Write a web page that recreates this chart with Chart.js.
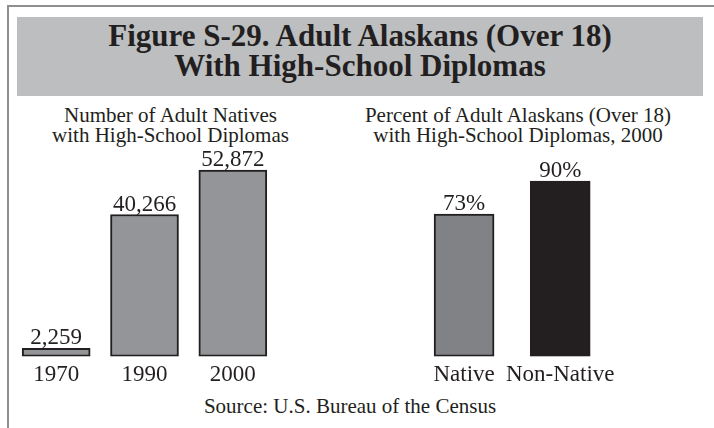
<!DOCTYPE html>
<html>
<head>
<meta charset="utf-8">
<script src="https://cdn.jsdelivr.net/npm/chart.js@4.4.1/dist/chart.umd.min.js"></script>
<style>
  html, body { margin: 0; padding: 0; background: #ffffff; }
  body { width: 714px; height: 428px; position: relative; overflow: hidden; font-family: "Liberation Serif", "DejaVu Serif", serif; color: #231f20; }
  .frameTop { position: absolute; left: 7px; top: 5px; width: 707px; height: 2px; background: #8e8e8e; }
  .frameLeft { position: absolute; left: 7px; top: 5px; width: 2px; height: 423px; background: #8e8e8e; }
  .band { position: absolute; left: 17px; top: 17px; width: 686px; height: 79px; background: #bcbec0; }
  .title { position: absolute; left: 17px; top: 21px; width: 686px; text-align: center; font-weight: bold; font-size: 31px; line-height: 30px; white-space: nowrap; }
  .sub { position: absolute; top: 105px; text-align: center; font-size: 21px; line-height: 20px; white-space: nowrap; }
  .source { position: absolute; left: 0; top: 396px; width: 700px; text-align: center; font-size: 21px; line-height: 21px; }
  canvas { position: absolute; }
</style>
</head>
<body>
<div class="frameTop"></div>
<div class="frameLeft"></div>
<div class="band"></div>
<div class="title">Figure S-29. Adult Alaskans (Over 18)<br>With High-School Diplomas</div>
<div class="sub" style="left:20px;width:301px;">Number of Adult Natives<br>with High-School Diplomas</div>
<div class="sub" style="left:358px;width:320px;">Percent of Adult Alaskans (Over 18)<br>with High-School Diplomas, 2000</div>
<div class="source">Source: U.S. Bureau of the Census</div>
<canvas id="left" width="265" height="255" style="left:12px;top:140px;"></canvas>
<canvas id="right" width="216" height="255" style="left:406px;top:140px;"></canvas>
<script>
// ---- data ----
const yearCategories = ["1970", "1990", "2000"];
const nativeDiplomaCounts = [2259, 40266, 52872];
const groupCategories = ["Native", "Non-Native"];
const diplomaPercents = [73, 90];

const INK = "#231f20";
const serif = '"Liberation Serif", "DejaVu Serif", serif';

const valueLabels = {
  id: "valueLabels",
  afterDatasetsDraw(chart, args, opts) {
    const ctx = chart.ctx;
    const meta = chart.getDatasetMeta(0);
    ctx.save();
    ctx.font = "23px " + serif;
    ctx.fillStyle = INK;
    ctx.textAlign = "center";
    ctx.textBaseline = "alphabetic";
    meta.data.forEach((bar, i) => {
      const v = chart.data.datasets[0].data[i];
      ctx.fillText(opts.format(v), bar.x, bar.y - 4);
    });
    ctx.restore();
  }
};

function makeChart(id, labels, data, yMax, fills, borders, thickness, padX, fmt) {
  return new Chart(document.getElementById(id), {
    type: "bar",
    data: {
      labels: labels,
      datasets: [{
        data: data,
        backgroundColor: fills,
        borderColor: borders,
        borderWidth: 2,
        borderSkipped: false,
        barThickness: thickness
      }]
    },
    options: {
      responsive: false,
      animation: false,
      devicePixelRatio: 1,
      layout: { padding: { top: 5, bottom: 1, left: padX, right: padX } },
      plugins: {
        legend: { display: false },
        tooltip: { enabled: false },
        valueLabels: { format: fmt }
      },
      scales: {
        x: {
          grid: { display: false, drawTicks: false },
          border: { display: false },
          ticks: { color: INK, font: { family: serif, size: 23 }, padding: 5, maxRotation: 0, autoSkip: false }
        },
        y: { display: false, min: 0, max: yMax }
      }
    },
    plugins: [valueLabels]
  });
}

makeChart("left", yearCategories, nativeDiplomaCounts, 60000,
  "#939598", INK, 68, 0, v => v.toLocaleString("en-US"));
makeChart("right", groupCategories, diplomaPercents, 108.5,
  ["#808285", INK], [INK, INK], 60, 10, v => v + "%");
</script>
</body>
</html>
